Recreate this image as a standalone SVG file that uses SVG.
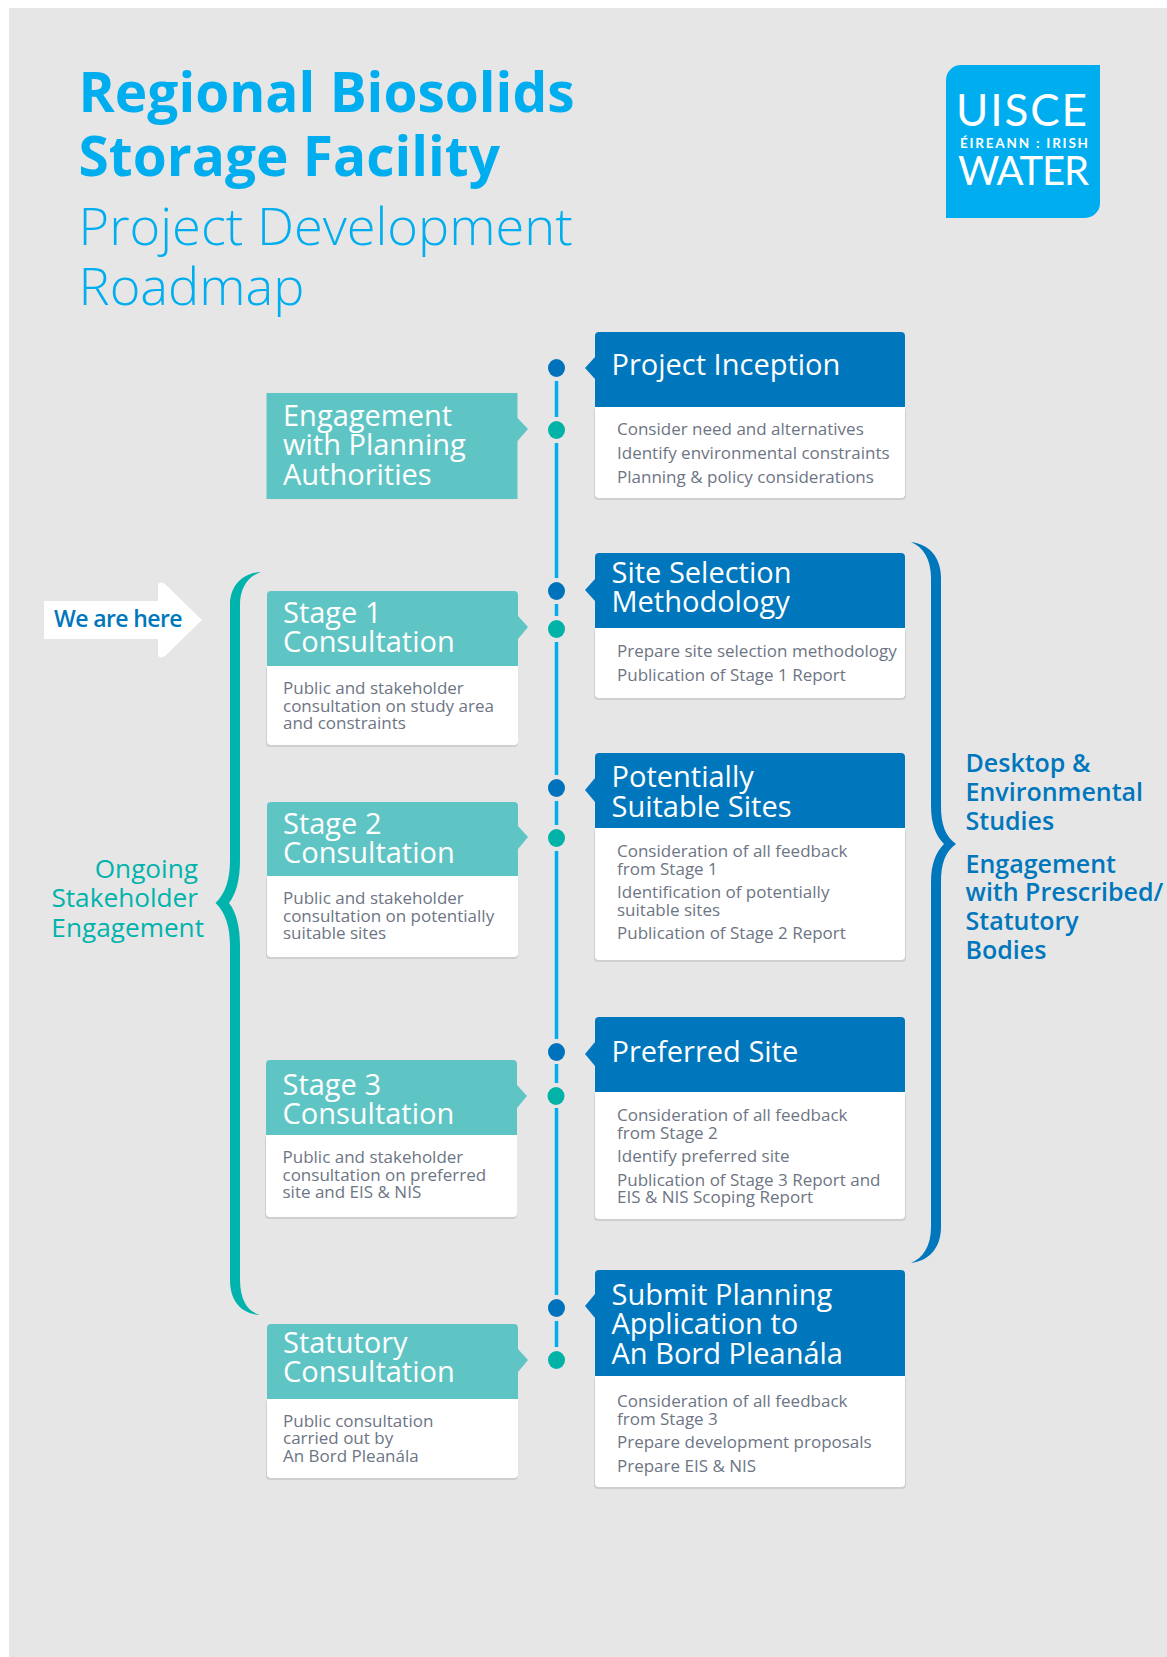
<svg xmlns="http://www.w3.org/2000/svg" width="1167" height="1657" viewBox="0 0 1167 1657">
<style>
text{font-family:"Open Sans","Noto Sans","DejaVu Sans",sans-serif}
.t1{font-size:55px;font-weight:700;fill:#00aeef}
.t2{font-size:52.400px;font-weight:300;fill:#00aeef}
.h{font-size:29px;fill:#fff}
.b{font-size:17px;fill:#6d7584}
.side{font-size:26.200px;fill:#00b3ac}
.r{font-size:25px;font-weight:600;fill:#0077bc}
.sh{fill:#cfcfcf}
.card{fill:#fff}
.hb{fill:#0077bc}
.ht{fill:#5fc5c4}
.db{fill:#0071bb}
.dt{fill:#00b3a6}
.ln{stroke:#00aeef;stroke-width:3.5;fill:none}
.logo{fill:#fff;font-family:Lato,"Open Sans",sans-serif}
</style>
<rect x="0" y="0" width="1167" height="1657" fill="#fff"/>
<rect x="9" y="8" width="1158" height="1649" fill="#e6e6e6"/>
<g id="title">
<text class="t1" x="78.500" y="112">Regional Biosolids</text>
<text class="t1" x="78.500" y="176">Storage Facility</text>
<text class="t2" x="78.500" y="245">Project Development</text>
<text class="t2" x="78.500" y="305">Roadmap</text>
</g>
<g id="logo">
<path d="M961 65H1100V203a15 15 0 0 1-15 15H946V80a15 15 0 0 1 15-15Z" fill="#00aeef"/>
<text class="logo" x="956" y="126" font-size="44" font-weight="400" textLength="131">UISCE</text>
<text class="logo" x="960" y="148" font-size="13.500" font-weight="700" textLength="128">ÉIREANN : IRISH</text>
<text class="logo" x="958" y="185" font-size="40" font-weight="400" textLength="131">WATER</text>
</g>
<g id="connectors">
<path class="ln" d="M556.5 381V417M556.5 443V578M556.5 604V616M556.5 642V775M556.5 801V825M556.5 851V1039M556.5 1064V1083M556.5 1108V1295M556.5 1321V1347"/>
<path d="M261 572C243 573 230 585 230 605V860C230 880 225 894 215.500 903C225 912 230 926 230 946V1280C230 1303 243 1314 260 1315C248 1312 240 1300 240 1280V946C240 926 236 912 229 903C236 894 240 880 240 860V605C240 588 248 576 261 572Z" fill="#00b3ac"/>
<path d="M911 542C928 544 941 556 941 578V806C941 824 945 836 956 844C945 852 941 864 941 882V1227C941 1249 928 1261 911 1263C923 1258 931 1246 931 1227V882C931 864 936 852 944 844C936 836 931 824 931 806V578C931 559 923 547 911 542Z" fill="#0077bc"/>
</g>
<g id="dots">
<ellipse class="db" cx="556.5" cy="368" rx="8.5" ry="9"/>
<ellipse class="dt" cx="556.5" cy="430" rx="8.5" ry="9"/>
<ellipse class="db" cx="556.5" cy="591" rx="8.5" ry="9"/>
<ellipse class="dt" cx="556.5" cy="629" rx="8.5" ry="9"/>
<ellipse class="db" cx="556.5" cy="788" rx="8.5" ry="9"/>
<ellipse class="dt" cx="556.5" cy="838" rx="8.5" ry="9"/>
<ellipse class="db" cx="556.5" cy="1052" rx="8.5" ry="9"/>
<ellipse class="dt" cx="556" cy="1096" rx="8.5" ry="9"/>
<ellipse class="db" cx="556.5" cy="1308" rx="8.5" ry="9"/>
<ellipse class="dt" cx="556.5" cy="1360" rx="8.5" ry="9"/>
</g>
<g id="arrow-here">
<path d="M44 601H158V587Q158 580 165 584L202 620L165 656Q158 660 158 653V639H44Z" fill="#fff"/>
<text x="54" y="627" font-size="23" font-weight="600" fill="#0077bc" letter-spacing="-0.600">We are here</text>
</g>
<g id="ongoing">
<text class="side" x="198" y="878" text-anchor="end">Ongoing</text>
<text class="side" x="198" y="907" text-anchor="end">Stakeholder</text>
<text class="side" x="204" y="937" text-anchor="end">Engagement</text>
</g>
<g id="right-label">
<text class="r" x="965.500" y="772">Desktop &amp;</text>
<text class="r" x="965.500" y="801">Environmental</text>
<text class="r" x="965.500" y="830">Studies</text>
<text class="r" x="965.500" y="873">Engagement</text>
<text class="r" x="965.500" y="901">with Prescribed/</text>
<text class="r" x="965.500" y="930">Statutory</text>
<text class="r" x="965.500" y="959">Bodies</text>
</g>
<g id="engagement-planning">
<path class="ht" d="M266.500 393H517.500V418L528 429L517.500 441V499H266.500Z"/>
<text class="h" x="283" y="426">Engagement</text><text class="h" x="283" y="455">with Planning</text><text class="h" x="283" y="485">Authorities</text>
</g>
<g id="stage-1">
<rect class="sh" x="266" y="666" width="252" height="81" rx="4"/><rect class="card" x="267" y="660" width="251" height="85" rx="4"/>
<path class="ht" d="M267 595a4 4 0 0 1 4-4H514a4 4 0 0 1 4 4V616L528 627L518 639V666H267Z"/>
<text class="h" x="283" y="623">Stage 1</text><text class="h" x="283" y="652">Consultation</text>
<text class="b" x="283" y="694">Public and stakeholder</text><text class="b" x="283" y="712">consultation on study area</text><text class="b" x="283" y="729">and constraints</text>
</g>
<g id="stage-2">
<rect class="sh" x="266" y="876" width="252" height="83" rx="4"/><rect class="card" x="267" y="870" width="251" height="87" rx="4"/>
<path class="ht" d="M267 806a4 4 0 0 1 4-4H514a4 4 0 0 1 4 4V826L528 837L518 849V876H267Z"/>
<text class="h" x="283" y="834">Stage 2</text><text class="h" x="283" y="863">Consultation</text>
<text class="b" x="283" y="904">Public and stakeholder</text><text class="b" x="283" y="922">consultation on potentially</text><text class="b" x="283" y="939">suitable sites</text>
</g>
<g id="stage-3">
<rect class="sh" x="265" y="1135" width="252" height="84" rx="4"/><rect class="card" x="266" y="1129" width="251" height="88" rx="4"/>
<path class="ht" d="M266 1064a4 4 0 0 1 4-4H513a4 4 0 0 1 4 4V1085L527 1096L517 1108V1135H266Z"/>
<text class="h" x="282.500" y="1095">Stage 3</text><text class="h" x="282.500" y="1124">Consultation</text>
<text class="b" x="282.500" y="1163">Public and stakeholder</text><text class="b" x="282.500" y="1181">consultation on preferred</text><text class="b" x="282.500" y="1198">site and EIS &amp; NIS</text>
</g>
<g id="statutory">
<rect class="sh" x="266" y="1399" width="252" height="81" rx="4"/><rect class="card" x="267" y="1393" width="251" height="85" rx="4"/>
<path class="ht" d="M267 1328a4 4 0 0 1 4-4H514a4 4 0 0 1 4 4V1349L528 1360L518 1372V1399H267Z"/>
<text class="h" x="283" y="1353">Statutory</text><text class="h" x="283" y="1382">Consultation</text>
<text class="b" x="283" y="1427">Public consultation</text><text class="b" x="283" y="1444">carried out by</text><text class="b" x="283" y="1462">An Bord Pleanála</text>
</g>
<g id="project-inception">
<rect class="sh" x="594" y="407" width="312" height="93" rx="4"/><rect class="card" x="595" y="401" width="310" height="97" rx="4"/>
<path class="hb" d="M595 336a4 4 0 0 1 4-4H901a4 4 0 0 1 4 4V407H595V379L585 368L595 357Z"/>
<text class="h" x="611.500" y="375">Project Inception</text>
<text class="b" x="617" y="435">Consider need and alternatives</text><text class="b" x="617" y="459">Identify environmental constraints</text><text class="b" x="617" y="483">Planning &amp; policy considerations</text>
</g>
<g id="site-selection">
<rect class="sh" x="594" y="628" width="312" height="72" rx="4"/><rect class="card" x="595" y="622" width="310" height="76" rx="4"/>
<path class="hb" d="M595 557a4 4 0 0 1 4-4H901a4 4 0 0 1 4 4V628H595V601L585 590L595 579Z"/>
<text class="h" x="611.500" y="583">Site Selection</text><text class="h" x="611.500" y="612">Methodology</text>
<text class="b" x="617" y="657">Prepare site selection methodology</text><text class="b" x="617" y="681">Publication of Stage 1 Report</text>
</g>
<g id="potentially-suitable">
<rect class="sh" x="594" y="828" width="312" height="134" rx="4"/><rect class="card" x="595" y="822" width="310" height="138" rx="4"/>
<path class="hb" d="M595 757a4 4 0 0 1 4-4H901a4 4 0 0 1 4 4V828H595V802L585 790L595 778Z"/>
<text class="h" x="611.500" y="787">Potentially</text><text class="h" x="611.500" y="817">Suitable Sites</text>
<text class="b" x="617" y="857">Consideration of all feedback</text><text class="b" x="617" y="875">from Stage 1</text><text class="b" x="617" y="898">Identification of potentially</text><text class="b" x="617" y="916">suitable sites</text><text class="b" x="617" y="939">Publication of Stage 2 Report</text>
</g>
<g id="preferred-site">
<rect class="sh" x="594" y="1092" width="312" height="129" rx="4"/><rect class="card" x="595" y="1086" width="310" height="133" rx="4"/>
<path class="hb" d="M595 1021a4 4 0 0 1 4-4H901a4 4 0 0 1 4 4V1092H595V1066L585 1054L595 1042Z"/>
<text class="h" x="611.500" y="1062">Preferred Site</text>
<text class="b" x="617" y="1121">Consideration of all feedback</text><text class="b" x="617" y="1139">from Stage 2</text><text class="b" x="617" y="1162">Identify preferred site</text><text class="b" x="617" y="1186">Publication of Stage 3 Report and</text><text class="b" x="617" y="1203">EIS &amp; NIS Scoping Report</text>
</g>
<g id="submit-planning">
<rect class="sh" x="594" y="1376" width="312" height="113" rx="4"/><rect class="card" x="595" y="1370" width="310" height="117" rx="4"/>
<path class="hb" d="M595 1274a4 4 0 0 1 4-4H901a4 4 0 0 1 4 4V1376H595V1318L585 1306L595 1294Z"/>
<text class="h" x="611.500" y="1305">Submit Planning</text><text class="h" x="611.500" y="1334">Application to</text><text class="h" x="611.500" y="1364">An Bord Pleanála</text>
<text class="b" x="617" y="1407">Consideration of all feedback</text><text class="b" x="617" y="1425">from Stage 3</text><text class="b" x="617" y="1448">Prepare development proposals</text><text class="b" x="617" y="1472">Prepare EIS &amp; NIS</text>
</g>
</svg>
